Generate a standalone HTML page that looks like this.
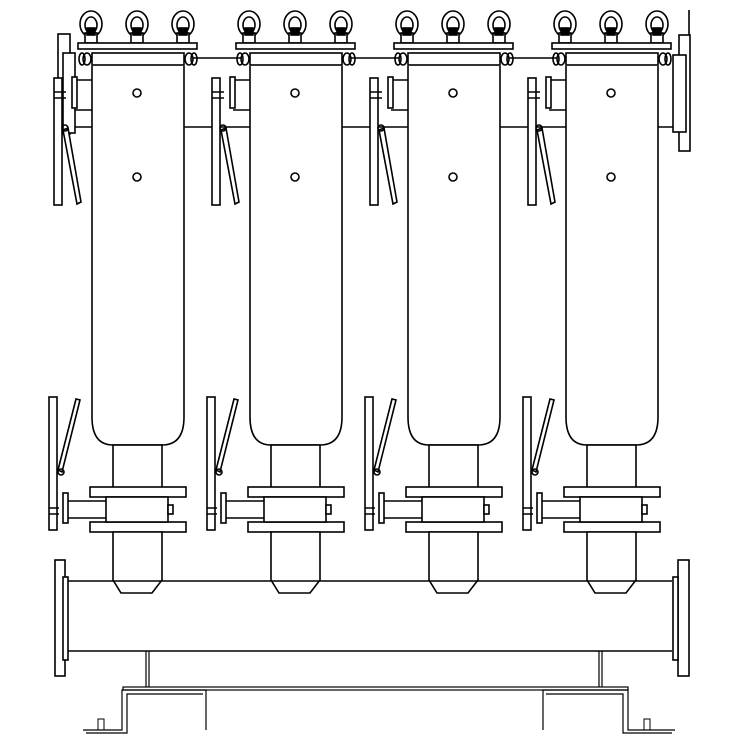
<!DOCTYPE html>
<html><head><style>html,body{margin:0;padding:0;background:#fff}svg{display:block}</style></head>
<body>
<svg width="739" height="739" viewBox="0 0 739 739" xmlns="http://www.w3.org/2000/svg" fill="none" stroke="#000" stroke-width="1.6">
<defs>
<g id="eye">
<ellipse cx="0" cy="24" rx="11" ry="13" fill="#fff"/>
<ellipse cx="0" cy="25" rx="6" ry="8"/>
<rect x="-6" y="33" width="12" height="10" fill="#fff"/>
<rect x="-4" y="28" width="8" height="7" fill="#000"/>
</g>
<g id="f">
<use href="#eye" x="91"/><use href="#eye" x="137"/><use href="#eye" x="183"/>
<rect x="78" y="43" width="119" height="6" fill="#fff"/>
<rect x="92" y="53" width="92" height="12" fill="#fff"/>
<ellipse cx="87" cy="59" rx="4" ry="6" fill="#fff"/><ellipse cx="82" cy="59" rx="3" ry="6"/>
<ellipse cx="189" cy="59" rx="4" ry="6" fill="#fff"/><ellipse cx="194" cy="59" rx="3" ry="6"/>
<path d="M92 66 V417 Q92 445 113 445 H162 Q184 445 184 417 V66" fill="#fff"/>
<circle cx="137" cy="93" r="4"/><circle cx="137" cy="177" r="4"/>
<path d="M75 80 H92 M75 110 H92"/>
<rect x="72" y="77" width="5" height="31" fill="#fff"/>
<rect x="54" y="78" width="8" height="127" fill="#fff"/>
<path d="M54 92 H66 M54 98 H66"/>
<polygon points="63,130 68,128 81,202 77,204" fill="#fff"/>
<circle cx="65" cy="128" r="3"/>
<rect x="113" y="445" width="49" height="50" fill="#fff"/>
<rect x="90" y="487" width="96" height="10" fill="#fff"/>
<rect x="90" y="522" width="96" height="10" fill="#fff"/>
<rect x="106" y="497" width="62" height="25" fill="#fff"/>
<rect x="168" y="505" width="5" height="9" fill="#fff"/>
<path d="M113 532 V580 L121 593 H152 L162 580 V532 Z" fill="#fff"/>
<path d="M63 501 H106 M63 518 H106"/>
<rect x="63" y="493" width="5" height="30" fill="#fff"/>
<rect x="49" y="397" width="8" height="133" fill="#fff"/>
<path d="M49 508 H59 M49 514 H59"/>
<polygon points="58,470 76,399 80,400 62,472" fill="#fff"/>
<circle cx="61" cy="472" r="3"/>
</g>
</defs>
<!-- connecting lines -->
<path d="M184 58 H650 M75 127 H92 M184 127 H250 M342 127 H408 M500 127 H566 M658 127 H673"/>
<!-- top flanges -->
<rect x="58" y="34" width="12" height="100" fill="#fff"/>
<rect x="63" y="53" width="12" height="80" fill="#fff"/>
<rect x="679" y="35" width="11" height="116" fill="#fff"/>
<rect x="673" y="55" width="13" height="77" fill="#fff"/>
<path d="M689 10 V35"/>
<use href="#f" x="0"/><use href="#f" x="158"/><use href="#f" x="316"/><use href="#f" x="474"/>
<!-- header pipe -->
<path d="M68 581 H672 M68 651 H672"/>
<rect x="55" y="560" width="10" height="116" fill="#fff"/>
<rect x="63" y="577" width="5" height="83" fill="#fff"/>
<rect x="678" y="560" width="11" height="116" fill="#fff"/>
<rect x="673" y="577" width="5" height="83" fill="#fff"/>
<!-- supports -->
<path d="M146 651 V687 M149 651 V687 M599 651 V687 M602 651 V687" stroke-width="1.2"/>
<rect x="123" y="687" width="505" height="3" stroke-width="1.2"/>
<path d="M83 730 H122 V690 H206 V730 M86 733 H127 V694 H203" stroke-width="1.2"/>
<path d="M675 730 H628 V690 H543 V730 M672 733 H623 V694 H546" stroke-width="1.2"/>
<rect x="98" y="719" width="6" height="11" stroke-width="1"/>
<rect x="644" y="719" width="6" height="11" stroke-width="1"/>
</svg>
</body></html>
